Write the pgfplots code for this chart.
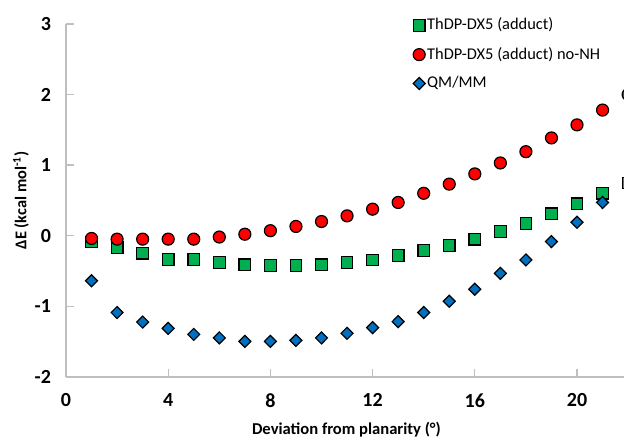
\documentclass[border=0pt]{standalone}
\usepackage{fontspec}
\setmainfont{Carlito}
\usepackage{pgfplots}
\pgfplotsset{compat=1.18}
\definecolor{mgreen}{HTML}{00B050}
\definecolor{mred}{HTML}{FF0000}
\definecolor{mblue}{HTML}{0070C0}
\definecolor{axgray}{HTML}{BFBFBF}
\begin{document}
\begin{tikzpicture}
\useasboundingbox (-33pt,-30.65pt) rectangle (279pt,188.35pt);
\begin{scope}
\clip (-33pt,-30.65pt) rectangle (279pt,188.35pt);
\begin{axis}[
  at={(0,0)}, anchor=south west,
  scale only axis,
  width=287.31pt, height=176.35pt,
  xmin=0, xmax=22.49, ymin=-2, ymax=3,
  axis x line*=bottom, axis y line*=left,
  axis line style={draw=axgray, line width=0.8pt, -},
  xtick={0,4,8,12,16,20}, ytick={-2,-1,0,1,2,3},
  tick style={draw=axgray, line width=0.6pt},
  tick align=inside,
  major tick length=4pt,
  /pgf/number format/assume math mode=true,
  ticklabel style={font=\fontsize{10}{11}\selectfont\bfseries},
  xticklabel style={yshift=-5pt},
  yticklabel style={xshift=-4pt},
  xlabel={Deviation from planarity (°)},
  ylabel={ΔE (kcal mol\textsuperscript{-1})},
  xlabel style={font=\fontsize{8.3}{10}\selectfont\bfseries, at={(axis description cs:0.488,0)}, anchor=center, yshift=-26.3pt},
  ylabel style={font=\fontsize{8.2}{9}\selectfont\bfseries, at={(axis description cs:-0.0783,0.5)}, anchor=center},
  clip=false,
  legend style={draw=none, fill=none, anchor=north west, at={(0.6035,1.024)},
    font=\fontsize{8.2}{9}\selectfont, row sep=5.1pt, inner sep=0pt,
    nodes={inner sep=1pt}},
  legend cell align=left,
  legend image code/.code={\draw[#1] plot coordinates {(3pt,0pt)};},
]
\addplot[only marks, mark=square*, mark size=2.9pt, mark options={fill=mgreen, draw=black, line width=0.6pt}]
coordinates {(1,-0.09)(2,-0.17)(3,-0.25)(4,-0.34)(5,-0.34)(6,-0.38)(7,-0.415)(8,-0.425)(9,-0.425)(10,-0.415)(11,-0.38)(12,-0.345)(13,-0.28)(14,-0.21)(15,-0.14)(16,-0.05)(17,0.06)(18,0.17)(19,0.31)(20,0.45)(21,0.60)(22,0.745)};
\addlegendentry{ThDP-DX5 (adduct)}
\addplot[only marks, mark=*, mark size=3pt, mark options={fill=mred, draw=black, line width=0.6pt}]
coordinates {(1,-0.04)(2,-0.05)(3,-0.05)(4,-0.05)(5,-0.05)(6,-0.02)(7,0.02)(8,0.07)(9,0.13)(10,0.2)(11,0.28)(12,0.375)(13,0.47)(14,0.60)(15,0.73)(16,0.875)(17,1.03)(18,1.19)(19,1.385)(20,1.57)(21,1.78)(22,2.0)};
\addlegendentry{ThDP-DX5 (adduct) no-NH}
\addplot[only marks, mark=diamond*, mark size=3pt, mark options={fill=mblue, draw=black, line width=0.6pt, xscale=1.33}]
coordinates {(1,-0.64)(2,-1.09)(3,-1.225)(4,-1.315)(5,-1.40)(6,-1.45)(7,-1.50)(8,-1.50)(9,-1.485)(10,-1.45)(11,-1.385)(12,-1.305)(13,-1.22)(14,-1.09)(15,-0.93)(16,-0.76)(17,-0.535)(18,-0.345)(19,-0.085)(20,0.19)(21,0.47)};
\addlegendentry{QM/MM}
\end{axis}
\end{scope}
\end{tikzpicture}
\end{document}
